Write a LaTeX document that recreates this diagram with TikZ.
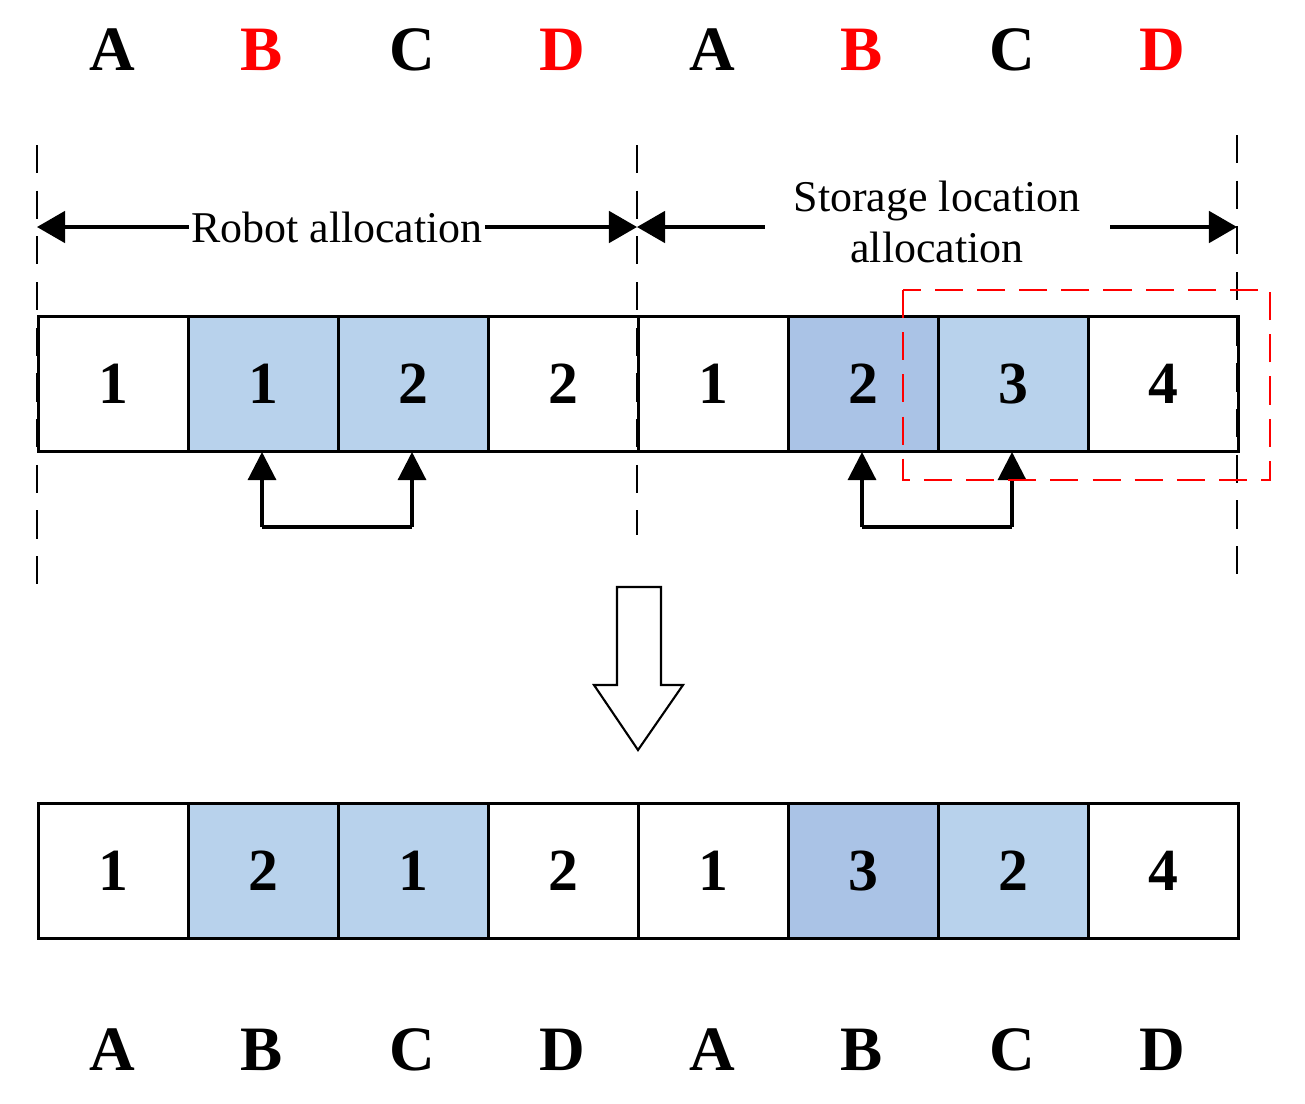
\documentclass[tikz,border=0pt]{standalone}
\usepackage{fontspec}
\setmainfont{Liberation Serif}
\usetikzlibrary{arrows.meta}
\definecolor{lb}{HTML}{B8D2EC}
\definecolor{db}{HTML}{AAC3E6}
\begin{document}
\begin{tikzpicture}[x=0.02cm,y=-0.02cm,
  cell/.style={draw=black,line width=1.8pt,minimum width=3cm,minimum height=2.7cm,anchor=north west,inner sep=0pt,font=\fontsize{34}{34}\selectfont\bfseries},
  lab/.style={font=\fontsize{36}{36}\selectfont\bfseries},
  dv/.style={dashed,dash pattern=on 16pt off 10pt,line width=1.6pt},
  ar/.style={line width=1.8pt,-{Triangle[length=16pt,width=16pt]}},
  ar2/.style={line width=1.8pt,{Triangle[length=16pt,width=18pt]}-{Triangle[length=16pt,width=18pt]}},
  txt/.style={font=\fontsize{25}{29}\selectfont}]
\useasboundingbox (0,0) rectangle (1305,1103);
% letters
\foreach \l/\c [count=\i from 0] in {A/black,B/red,C/black,D/red,A/black,B/red,C/black,D/red}
  {\node[lab,text=\c] (t\i) at (112+150*\i,50) {\l};
   \node[lab] (b\i) at (112+150*\i,1050) {\l};}
% top cells
\foreach \n/\f [count=\i from 0] in {1/white,1/lb,2/lb,2/white,1/white,2/db,3/lb,4/white}
  \node[cell,fill=\f] (u\i) at (37+150*\i,315) {\n};
\foreach \n/\f [count=\i from 0] in {1/white,2/lb,1/lb,2/white,1/white,3/db,2/lb,4/white}
  \node[cell,fill=\f] (d\i) at (37+150*\i,802) {\n};
% dashed verticals
\coordinate (v1a) at (37,145); \coordinate (v1b) at (37,600);
\coordinate (v2a) at (637,145); \coordinate (v2b) at (637,535);
\coordinate (v3a) at (1237,135); \coordinate (v3b) at (1237,590);
\draw[dv] (v1a)--(v1b); \draw[dv] (v2a)--(v2b); \draw[dv] (v3a)--(v3b);
% range arrows
\coordinate (r1) at (37,227); \coordinate (r2) at (637,227); \coordinate (r3) at (1237,227);
\draw[ar2] (r1)--(r2) node[midway,fill=white,inner sep=1pt,txt] (ra) {Robot allocation};
\node[txt,align=center] (sa) at (937,222) {Storage location\\allocation};
\draw[line width=1.8pt,{Triangle[length=16pt,width=18pt]}-] (r2)--(765,227);
\draw[line width=1.8pt,-{Triangle[length=16pt,width=18pt]}] (1110,227)--(r3);
% swap arrows
\coordinate (s1) at (262,527); \coordinate (s2) at (412,527);
\draw[line width=1.8pt] (s1)--(s2); \draw[ar] (s1)--(262,452); \draw[ar] (s2)--(412,452);
\coordinate (s3) at (862,527); \coordinate (s4) at (1012,527);
\draw[line width=1.8pt] (s3)--(s4); \draw[ar] (s3)--(862,452); \draw[ar] (s4)--(1012,452);
% red dashed box
\draw[red,dashed,dash pattern=on 16pt off 8pt,line width=1.6pt] (903,290) rectangle (1270,480);
% big arrow
\draw[line width=1.2pt,fill=white] (617,587)--(661,587)--(661,685)--(683,685)--(638,750)--(594,685)--(617,685)--cycle;
\end{tikzpicture}
\end{document}
